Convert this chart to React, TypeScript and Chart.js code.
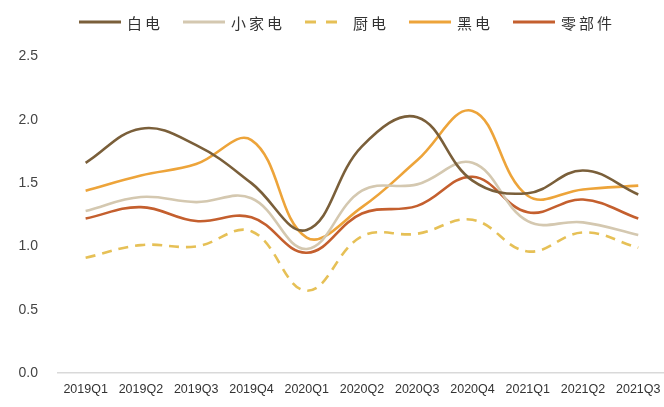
import React, { useEffect, useRef } from "react";
import { Chart, registerables } from "chart.js";

Chart.register(...registerables);

// Quarterly ratio series for home-appliance segments
const quarters = [
  "2019Q1", "2019Q2", "2019Q3", "2019Q4",
  "2020Q1", "2020Q2", "2020Q3", "2020Q4",
  "2021Q1", "2021Q2", "2021Q3",
];

const whiteGoods = [1.66, 1.93, 1.8, 1.5, 1.13, 1.79, 2.02, 1.52, 1.42, 1.6, 1.41];
const smallAppliances = [1.28, 1.39, 1.35, 1.38, 0.98, 1.44, 1.49, 1.66, 1.2, 1.19, 1.09];
const kitchenAppliances = [0.91, 1.01, 1.0, 1.12, 0.65, 1.08, 1.1, 1.21, 0.96, 1.11, 0.99];
const blackGoods = [1.44, 1.56, 1.65, 1.84, 1.07, 1.31, 1.68, 2.07, 1.4, 1.45, 1.48];
const components = [1.22, 1.31, 1.2, 1.23, 0.95, 1.26, 1.32, 1.55, 1.27, 1.37, 1.22];

const yTicks = [0, 0.5, 1, 1.5, 2, 2.5];

const KITCHEN_DASH = [10, 7];

// Legend drawn across the top: line sample followed by spaced CJK label
const topLegend = {
  id: "topLegend",
  afterDraw(chart: any) {
    const ctx = chart.ctx as CanvasRenderingContext2D;
    const sampleLen = 42;
    const textGap = 6;
    const advance = 18;
    const glyph = 15;
    const itemGap = 23;
    const y = 22;
    let x = 79;
    ctx.save();
    ctx.font = `${glyph}px 'Noto Sans CJK SC', sans-serif`;
    ctx.textBaseline = "middle";
    ctx.textAlign = "left";
    chart.data.datasets.forEach((ds: any) => {
      ctx.strokeStyle = ds.borderColor;
      ctx.lineWidth = 3;
      ctx.lineCap = "butt";
      ctx.setLineDash(ds.borderDash && ds.borderDash.length ? [11, 10] : []);
      ctx.beginPath();
      ctx.moveTo(x, y);
      ctx.lineTo(x + sampleLen, y);
      ctx.stroke();
      ctx.setLineDash([]);
      x += sampleLen + textGap;
      ctx.fillStyle = "#333";
      const chars = Array.from(ds.label as string);
      chars.forEach((ch, i) => {
        ctx.fillText(ch, x + i * advance, y + 1);
      });
      x += (chars.length - 1) * advance + glyph + itemGap;
    });
    ctx.restore();
  },
};

export default function App() {
  const canvasRef = useRef<HTMLCanvasElement | null>(null);

  useEffect(() => {
    document.body.style.margin = "0";
    document.body.style.overflow = "hidden";
    const canvas = canvasRef.current;
    if (!canvas) return;

    const series = (
      label: string,
      data: number[],
      color: string,
      dash: number[] = []
    ) => ({
      label,
      data,
      borderColor: color,
      backgroundColor: color,
      borderWidth: 2.6,
      borderDash: dash,
      tension: 0.4,
      pointRadius: 0,
      fill: false,
    });

    const chart = new Chart(canvas, {
      type: "line",
      data: {
        labels: quarters,
        datasets: [
          series("白电", whiteGoods, "#7a5f3a"),
          series("小家电", smallAppliances, "#d4c8b0"),
          series("厨电", kitchenAppliances, "#e6c056", KITCHEN_DASH),
          series("黑电", blackGoods, "#eda43a"),
          series("零部件", components, "#c45f2e"),
        ],
      },
      options: {
        animation: false,
        responsive: false,
        maintainAspectRatio: false,
        layout: { padding: { top: 56.5, right: 0, bottom: 0, left: 0 } },
        plugins: {
          tooltip: { enabled: false },
          legend: { display: false },
        },
        scales: {
          x: {
            offset: true,
            grid: { display: false, drawTicks: false },
            border: { display: true, color: "#d9d9d9", width: 1.5 },
            ticks: {
              color: "#333",
              padding: 9.5,
              maxRotation: 0,
              autoSkip: false,
              font: { family: "'Liberation Sans', Arial, sans-serif", size: 12.5 },
            },
          },
          y: {
            min: 0,
            max: 2.5,
            afterFit: (scale: any) => {
              scale.width = 58;
            },
            afterBuildTicks: (scale: any) => {
              scale.ticks = yTicks.map((v) => ({ value: v }));
            },
            grid: { display: false, drawTicks: false },
            border: { display: false },
            ticks: {
              color: "#444",
              padding: 20,
              font: { family: "'Liberation Sans', Arial, sans-serif", size: 14 },
              callback: (v: any) => Number(v).toFixed(1),
            },
          },
        },
      },
      plugins: [topLegend],
    });

    return () => chart.destroy();
  }, []);

  return (
    <div
      style={{
        position: "absolute",
        left: 0,
        top: 0,
        width: 664,
        height: 407,
        overflow: "hidden",
        background: "#fff",
      }}
    >
      <canvas ref={canvasRef} width={670} height={407} style={{ display: "block" }} />
    </div>
  );
}
